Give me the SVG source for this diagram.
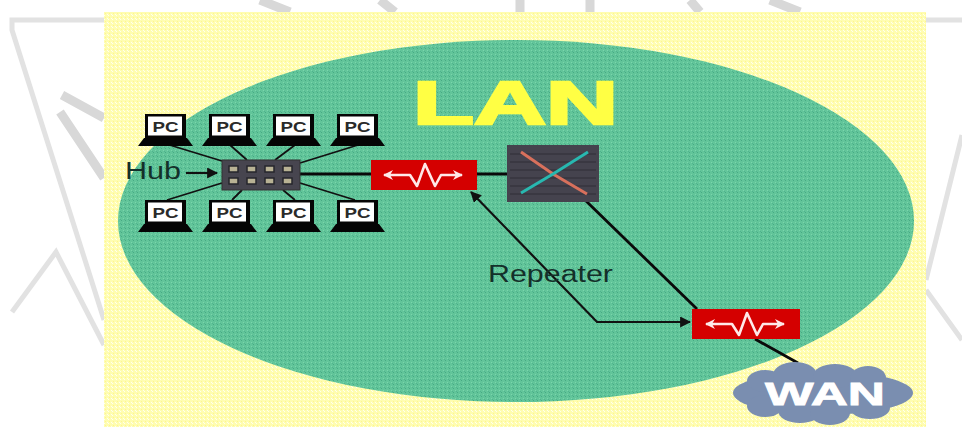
<svg xmlns="http://www.w3.org/2000/svg" width="962" height="427" viewBox="0 0 962 427">
<style>
.wm{fill:none;stroke:#e2e2e2;stroke-width:5}
.wt{fill:none;stroke:#d8d8d8;stroke-width:9}
.ln{fill:none;stroke:#111;stroke-width:1.8}
.ar{fill:none;stroke:#111;stroke-width:2.2}
.th{fill:none;stroke:#0a0a0a;stroke-width:2.8}
.sans{font-family:"Liberation Sans",Arial,sans-serif}
.rep{fill:#d40000}
.sig{fill:none;stroke:#ffe8e8;stroke-width:2.6;stroke-linejoin:round}
.port{fill:#b8b294;stroke:#26262c;stroke-width:1.5}
.lbl{font-size:23px;fill:#14302a}
.cl{fill:#7a8eb0}
</style>
<defs>
<pattern id="dy" width="4" height="4" patternUnits="userSpaceOnUse"><rect width="4" height="4" fill="#fffdb0"/><rect x="1" y="1" width="1" height="1" fill="#fdf590"/><rect x="3" y="2" width="1" height="1" fill="#fffff0"/><rect x="0" y="3" width="1" height="1" fill="#fffff0"/></pattern>
<pattern id="dg" width="4" height="4" patternUnits="userSpaceOnUse"><rect width="4" height="4" fill="#62c59a"/><rect x="1" y="0" width="1" height="1" fill="#46aa84"/><rect x="3" y="2" width="1" height="1" fill="#7ad6ac"/><rect x="0" y="3" width="1" height="1" fill="#50b48e"/></pattern>
<marker id="ah" viewBox="0 0 10 10" refX="9" refY="5" markerWidth="11" markerHeight="11" markerUnits="userSpaceOnUse" orient="auto-start-reverse"><path d="M0 0L10 5L0 10z" fill="#111"/></marker>
<marker id="wh" viewBox="0 0 10 10" refX="9" refY="5" markerWidth="10" markerHeight="10" markerUnits="userSpaceOnUse" orient="auto-start-reverse"><path d="M0 0L10 5L0 10L3 5z" fill="#ffe8e8"/></marker>
<symbol id="pc" width="56" height="32" viewBox="0 0 56 32" overflow="visible">
<rect x="7" y="0" width="41" height="26" fill="#050505"/>
<rect x="10" y="2.500" width="34" height="19" fill="#fff"/>
<path d="M6 24H49L55 32H0z" fill="#050505"/>
<text x="27.500" y="17.500" text-anchor="middle" class="sans" font-size="15" font-weight="bold" fill="#2a2a2a" textLength="26" lengthAdjust="spacingAndGlyphs">PC</text>
</symbol>
<symbol id="wave" width="84" height="28" viewBox="0 0 84 28" overflow="visible">
<path class="sig" d="M3 14H29L36 25L44 3L54 25L60 14H81" marker-start="url(#wh)" marker-end="url(#wh)"/>
</symbol>
</defs>
<rect width="962" height="427" fill="#fff"/>
<g id="background">
<path class="wm" d="M104 20H12L12 30L104 320"/>
<path class="wm" d="M12 312L56 252L104 345"/>
<path class="wm" d="M926 20H962M926 280L962 135M926 290L962 340"/>
<path class="wt" d="M62 95L104 118M60 112L104 178M260 0L290 12M380 0L395 12M520 0V12M590 0V12M690 0L700 12M770 0L800 12"/>
<rect x="104" y="12" width="822" height="415" fill="url(#dy)"/>
<ellipse cx="516" cy="221" rx="398" ry="181" fill="url(#dg)"/>
</g>
<g id="connectors">
<path class="ln" d="M163 143L222 161M230 145L247 160M295 145L275 160M358 145L300 163M222 183L167 200M242 190L232 200M283 190L295 200M300 183L355 200"/>
<path class="th" d="M300 174H371M477 174H507"/>
<path class="th" d="M585 200L697 309M755 339L798 363"/>
<path class="ar" d="M471 192L597 322H690" marker-start="url(#ah)" marker-end="url(#ah)"/>
</g>
<g id="pc-1"><use href="#pc" x="138" y="114"/></g>
<g id="pc-2"><use href="#pc" x="202" y="114"/></g>
<g id="pc-3"><use href="#pc" x="266" y="114"/></g>
<g id="pc-4"><use href="#pc" x="330" y="114"/></g>
<g id="pc-5"><use href="#pc" x="138" y="200"/></g>
<g id="pc-6"><use href="#pc" x="202" y="200"/></g>
<g id="pc-7"><use href="#pc" x="266" y="200"/></g>
<g id="pc-8"><use href="#pc" x="330" y="200"/></g>
<g id="hub">
<rect x="222" y="160" width="78" height="30" fill="#47454f" stroke="#333" stroke-width="1"/>
<rect class="port" x="229" y="166" width="9" height="6"/><rect class="port" x="247" y="166" width="9" height="6"/><rect class="port" x="265" y="166" width="9" height="6"/><rect class="port" x="283" y="166" width="9" height="6"/>
<rect class="port" x="229" y="178" width="9" height="6"/><rect class="port" x="247" y="178" width="9" height="6"/><rect class="port" x="265" y="178" width="9" height="6"/><rect class="port" x="283" y="178" width="9" height="6"/>
</g>
<g id="hub-label">
<text x="125" y="179" class="sans lbl" textLength="56" lengthAdjust="spacingAndGlyphs">Hub</text>
<path class="ar" d="M186 173H217" marker-end="url(#ah)"/>
</g>
<g id="repeater-1"><rect class="rep" x="371" y="160" width="106" height="30"/><use href="#wave" x="381" y="161"/></g>
<g id="switch">
<rect x="507" y="145" width="92" height="57" fill="#45434e"/>
<path d="M510 154H596M510 162H596M510 170H596M510 178H596M510 186H596M510 194H596" fill="none" stroke="#3a3842" stroke-width="2"/>
<path d="M521 152L553 174L587 194" fill="none" stroke="#d8705c" stroke-width="3"/>
<path d="M521 193L553 174L588 152" fill="none" stroke="#28b8b0" stroke-width="3"/>
</g>
<g id="repeater-2"><rect class="rep" x="692" y="309" width="108" height="30"/><use href="#wave" x="703" y="310"/></g>
<g id="wan">
<ellipse class="cl" cx="823" cy="393" rx="90" ry="22"/>
<ellipse class="cl" cx="765" cy="381" rx="18" ry="11"/><ellipse class="cl" cx="795" cy="375" rx="22" ry="13"/><ellipse class="cl" cx="835" cy="376" rx="22" ry="12"/><ellipse class="cl" cx="868" cy="378" rx="18" ry="12"/>
<ellipse class="cl" cx="765" cy="406" rx="18" ry="11"/><ellipse class="cl" cx="800" cy="411" rx="22" ry="12"/><ellipse class="cl" cx="830" cy="413" rx="20" ry="12"/><ellipse class="cl" cx="870" cy="408" rx="20" ry="11"/>
<text x="765" y="405" class="sans" font-size="31" font-weight="bold" fill="#fff" stroke="#fff" stroke-width="0.8" textLength="120" lengthAdjust="spacingAndGlyphs">WAN</text>
</g>
<text id="lan-label" x="413" y="124" class="sans" font-size="61" font-weight="bold" fill="#ffff44" stroke="#ffff44" stroke-width="2.5" textLength="205" lengthAdjust="spacingAndGlyphs">LAN</text>
<text id="repeater-label" x="488" y="282" class="sans lbl" textLength="125" lengthAdjust="spacingAndGlyphs">Repeater</text>
</svg>
